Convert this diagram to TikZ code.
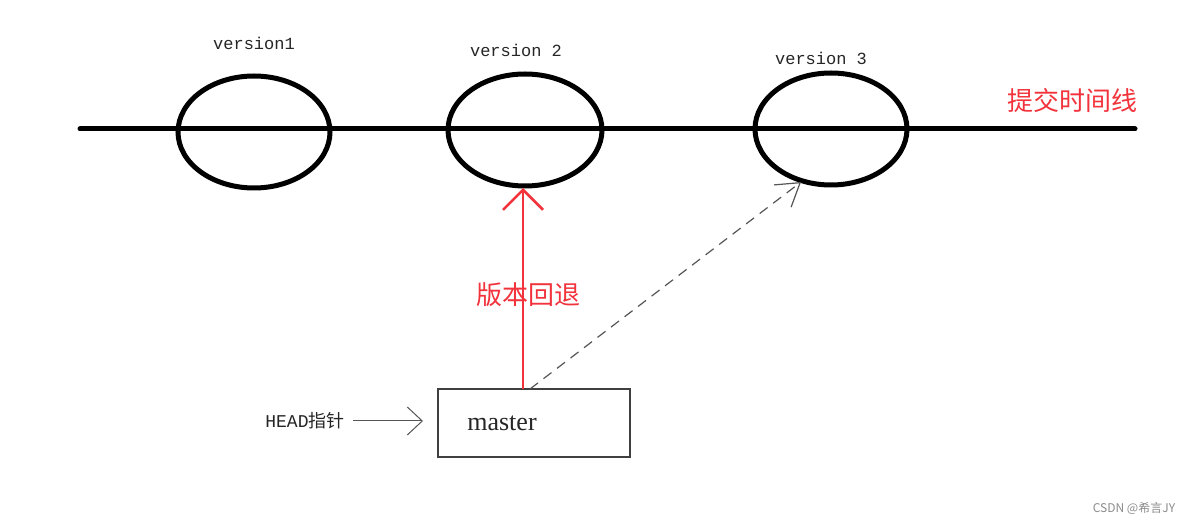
\documentclass[tikz,border=0pt]{standalone}
\usepackage{fontspec}
\setmainfont{Liberation Serif}
\setmonofont{Liberation Mono}
\newfontfamily\cjk{Noto Sans CJK SC}
\usetikzlibrary{arrows.meta}
\definecolor{myred}{HTML}{F2333C}
\definecolor{mygray}{HTML}{555555}
\begin{document}
\begin{tikzpicture}[x=1pt,y=-1pt,
  verlabel/.style={font=\ttfamily\fontsize{17}{17}\selectfont,text=black!85},
  redlabel/.style={font=\cjk\fontsize{26}{26}\selectfont,text=myred}]
\useasboundingbox (0,0) rectangle (1197,526);
\fill[white] (0,0) rectangle (1197,526);
% timeline
\coordinate (tl0) at (80,129);
\coordinate (tl1) at (1135,129);
\draw[line width=5pt,line cap=round] (tl0) -- (tl1);
% versions
\draw[line width=5pt] (254,132) ellipse [x radius=76, y radius=56];
\draw[line width=5pt] (525,130) ellipse [x radius=77, y radius=56];
\draw[line width=5pt] (831,129) ellipse [x radius=76, y radius=56];
\coordinate (v2b) at (523,188);
\coordinate (v3b) at (801,182);
\node[verlabel] (l1) at (254,43) {version1};
\node[verlabel] (l2) at (516,50) {version 2};
\node[verlabel] (l3) at (821,58) {version 3};
\node[redlabel] (tl) at (1072,101) {提交时间线};
% master box
\node[draw=black!75,line width=1.5pt,minimum width=192pt,minimum height=68pt,inner sep=0pt] (m) at (534,423) {};
\node[font=\fontsize{26}{26}\selectfont,text=black!85] (mt) at (502,423) {master};
\coordinate (mr) at (523,389);
\coordinate (md) at (530,389);
% red arrow
\draw[myred,line width=2.5pt,-{Straight Barb[length=20pt,width=40pt,line width=2.5pt]}] (mr) -- (v2b);
\node[redlabel] (rb) at (528,295) {版本回退};
% dashed arrow
\draw[mygray,line width=1.2pt,dash pattern=on 10pt off 7pt,-{Straight Barb[length=22pt,width=28pt,line width=1.2pt]}] (md) -- (v3b);
% HEAD pointer
\node[font=\fontsize{18}{18}\selectfont,text=black!85] (hd) at (305,421) {\ttfamily HEAD\cjk 指针};
\coordinate (ha) at (423,421);
\draw[mygray,line width=1pt,-{Straight Barb[length=15pt,width=28pt,line width=1pt]}] (hd.east) ++(5,0) -- (ha);
% watermark
\node[font=\cjk\fontsize{12}{12}\selectfont,text=black!45] (wm) at (1134,508) {CSDN @希言JY};
\end{tikzpicture}
\end{document}
